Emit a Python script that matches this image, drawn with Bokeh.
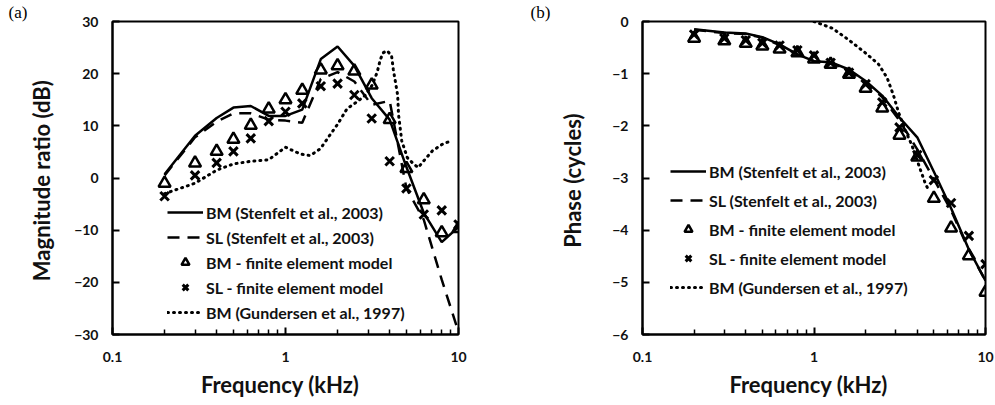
from bokeh.plotting import figure
from bokeh.models import Range1d, FixedTicker, Legend, LegendItem, Title
from bokeh.layouts import row
from bokeh.embed import file_html
from bokeh.resources import INLINE

# ---------------- data ----------------
freq = [0.2, 0.3, 0.4, 0.5, 0.63, 0.8, 1.0, 1.25, 1.6, 2.0, 2.5, 3.15, 4.0, 5.0, 6.3, 8.0, 10.0]

# (a) magnitude ratio (dB)
mag_bm_stenfelt = [0.7, 8.1, 11.5, 13.5, 13.8, 11.9, 11.9, 13.1, 22.8, 25.2, 21.5, 15.3, 11.2, 2.1, -6.7, -12.3, -9.4]
mag_sl_stenfelt = [0.5, 7.8, 10.8, 12.4, 12.4, 11.2, 11.0, 10.6, 19.0, 20.3, 18.5, 14.0, 14.8, -2.0, -8.0, -19.5, -29.5]
mag_bm_fe = [-1.0, 2.85, 5.1, 7.4, 10.1, 13.2, 15.0, 16.8, 20.7, 21.5, 20.5, 17.8, 11.2, 1.8, -4.2, -10.5, -9.7]
mag_sl_fe = [-3.5, 0.5, 2.9, 5.1, 7.6, 10.9, 12.7, 14.3, 17.6, 18.1, 15.9, 11.4, 3.2, -2.0, -7.0, -6.2, -8.9]

gund_freq_a = [0.2, 0.3, 0.4, 0.5, 0.63, 0.8, 1.0, 1.22, 1.39, 1.59, 1.82, 2.0, 2.27, 2.59, 2.9, 3.17,
               3.39, 3.53, 3.67, 3.86, 4.1, 4.2, 4.45, 4.5, 4.7, 5.06, 5.5, 5.85, 6.3, 7.06, 8.1, 9.0]
gund_mag = [-3.0, -1.0, 1.5, 2.7, 3.2, 3.5, 5.9, 4.6, 4.3, 5.6, 8.4, 10.3, 13.3, 14.6, 15.9, 17.8,
            20.3, 22.7, 24.0, 24.4, 23.5, 20.8, 15.9, 12.2, 7.1, 3.9, 2.7, 2.0, 3.3, 5.2, 6.5, 7.1]

# (b) phase (cycles)
ph_bm_stenfelt = [-0.15, -0.21, -0.23, -0.30, -0.44, -0.63, -0.76, -0.78, -0.92, -1.14, -1.42, -1.84, -2.22, -2.88, -3.58, -4.37, -4.97]
ph_sl_stenfelt = [-0.16, -0.22, -0.24, -0.31, -0.45, -0.63, -0.76, -0.79, -0.93, -1.16, -1.45, -1.90, -2.45, -3.02, -3.62, -4.38, -4.97]
ph_bm_fe = [-0.32, -0.37, -0.42, -0.47, -0.53, -0.60, -0.72, -0.82, -1.01, -1.28, -1.66, -2.18, -2.60, -3.39, -3.96, -4.49, -5.19]
ph_sl_fe = [-0.25, -0.32, -0.36, -0.41, -0.46, -0.55, -0.65, -0.79, -0.98, -1.20, -1.55, -2.03, -2.56, -3.04, -3.48, -4.11, -4.65]

gund_freq_b = [1.0, 1.28, 1.59, 1.99, 2.38, 2.67, 2.91, 3.11, 3.41, 3.72, 4.08, 4.45, 4.64]
gund_phase = [0.0, -0.13, -0.35, -0.60, -0.82, -1.08, -1.42, -1.74, -2.09, -2.37, -2.75, -3.10, -3.22]

x_ticks = [0.1, 1, 10]
x_tick_labels = ["0.1", "1", "10"]
x_minor = [0.2, 0.3, 0.4, 0.5, 0.6, 0.7, 0.8, 0.9, 2, 3, 4, 5, 6, 7, 8, 9]
y_ticks_a = [-30, -20, -10, 0, 10, 20, 30]
y_ticks_b = [-6, -5, -4, -3, -2, -1, 0]

legend_labels = ["BM (Stenfelt et al., 2003)", "SL (Stenfelt et al., 2003)",
                 "BM - finite element model", "SL - finite element model",
                 "BM (Gundersen et al., 1997)"]

FONT = "Lato"
INK = "#111111"


def make_panel(width, border_left, border_right, border_bottom, y_lo, y_hi, y_ticks, y_label,
               y_label_standoff, bm_st, sl_st, bm_fe, sl_fe, g_f, g_v, leg_x, leg_y, leg_spacing,
               letter, letter_x):
    p = figure(width=width, height=405, x_axis_type="log",
               x_range=Range1d(0.1, 10), y_range=Range1d(y_lo, y_hi),
               output_backend="svg", toolbar_location=None,
               min_border_left=border_left, min_border_right=border_right,
               min_border_top=18, min_border_bottom=border_bottom)
    p.grid.visible = False
    p.outline_line_color = "black"
    p.outline_line_width = 2
    p.background_fill_color = "white"
    p.border_fill_color = "white"

    xa = p.xaxis[0]
    xa.ticker = FixedTicker(ticks=x_ticks, minor_ticks=x_minor)
    xa.major_label_overrides = {t: s for t, s in zip(x_ticks, x_tick_labels)}
    ya = p.yaxis[0]
    ya.ticker = FixedTicker(ticks=y_ticks)
    for ax in (xa, ya):
        ax.axis_line_color = "black"
        ax.axis_line_width = 2
        ax.major_tick_in = 7
        ax.major_tick_out = 0
        ax.minor_tick_in = 5
        ax.minor_tick_out = 0
        ax.major_tick_line_width = 2
        ax.minor_tick_line_width = 1.5
        ax.major_tick_line_color = "black"
        ax.minor_tick_line_color = "black"
        ax.major_label_text_font = FONT
        ax.major_label_text_font_style = "bold"
        ax.major_label_text_font_size = "14px"
        ax.major_label_text_color = INK
        ax.axis_label_text_font = FONT
        ax.axis_label_text_font_style = "bold"
        ax.axis_label_text_font_size = "22px"
        ax.axis_label_text_color = INK
    ya.minor_tick_in = 0
    xa.axis_label = "Frequency   (kHz)"
    xa.major_label_standoff = 17
    xa.axis_label_standoff = 6
    ya.axis_label = y_label
    ya.major_label_standoff = 14
    ya.axis_label_standoff = y_label_standoff

    r1 = p.line(freq, bm_st, line_color="black", line_width=2.5)
    r2 = p.line(freq, sl_st, line_color="black", line_width=2.5, line_dash="12 8")
    r5 = p.line(g_f, g_v, line_color="black", line_width=3, line_dash="1 5", line_cap="round")
    r3 = p.scatter(freq, bm_fe, marker="triangle", size=12, line_color="black",
                   line_width=2.5, fill_color=None)
    r4 = p.scatter(freq, sl_fe, marker="x", size=12, line_color="black", line_width=3)

    legend = Legend(items=[LegendItem(label=legend_labels[0], renderers=[r1]),
                           LegendItem(label=legend_labels[1], renderers=[r2]),
                           LegendItem(label=legend_labels[2], renderers=[r3]),
                           LegendItem(label=legend_labels[3], renderers=[r4]),
                           LegendItem(label=legend_labels[4], renderers=[r5])],
                    location=(leg_x, leg_y), orientation="vertical")
    legend.background_fill_alpha = 0
    legend.border_line_color = None
    legend.padding = 0
    legend.margin = 0
    legend.glyph_width = 36
    legend.glyph_height = 20
    legend.label_height = 20
    legend.spacing = leg_spacing
    legend.label_standoff = 3
    legend.label_text_font = FONT
    legend.label_text_font_style = "bold"
    legend.label_text_font_size = "16px"
    legend.label_text_color = INK
    p.add_layout(legend, "center")

    t = Title(text=letter, align="left", offset=letter_x, standoff=0,
              text_font="Liberation Serif", text_font_size="17px",
              text_font_style="normal", text_color="black")
    p.add_layout(t, "above")
    return p


pa = make_panel(497, 112, 39, 68, -30, 30, y_ticks_a, "Magnitude ratio  (dB)", 16,
                mag_bm_stenfelt, mag_sl_stenfelt, mag_bm_fe, mag_sl_fe, gund_freq_a, gund_mag,
                55, 12, 5, "(a)", -104)
pb = make_panel(498, 145, 10, 71, -6, 0, y_ticks_b, "Phase  (cycles)", 23,
                ph_bm_stenfelt, ph_sl_stenfelt, ph_bm_fe, ph_sl_fe, gund_freq_b, gund_phase,
                28, 37, 9, "(b)", -112)

layout = row(pa, pb)
open("out.html", "w").write(file_html(layout, INLINE))
